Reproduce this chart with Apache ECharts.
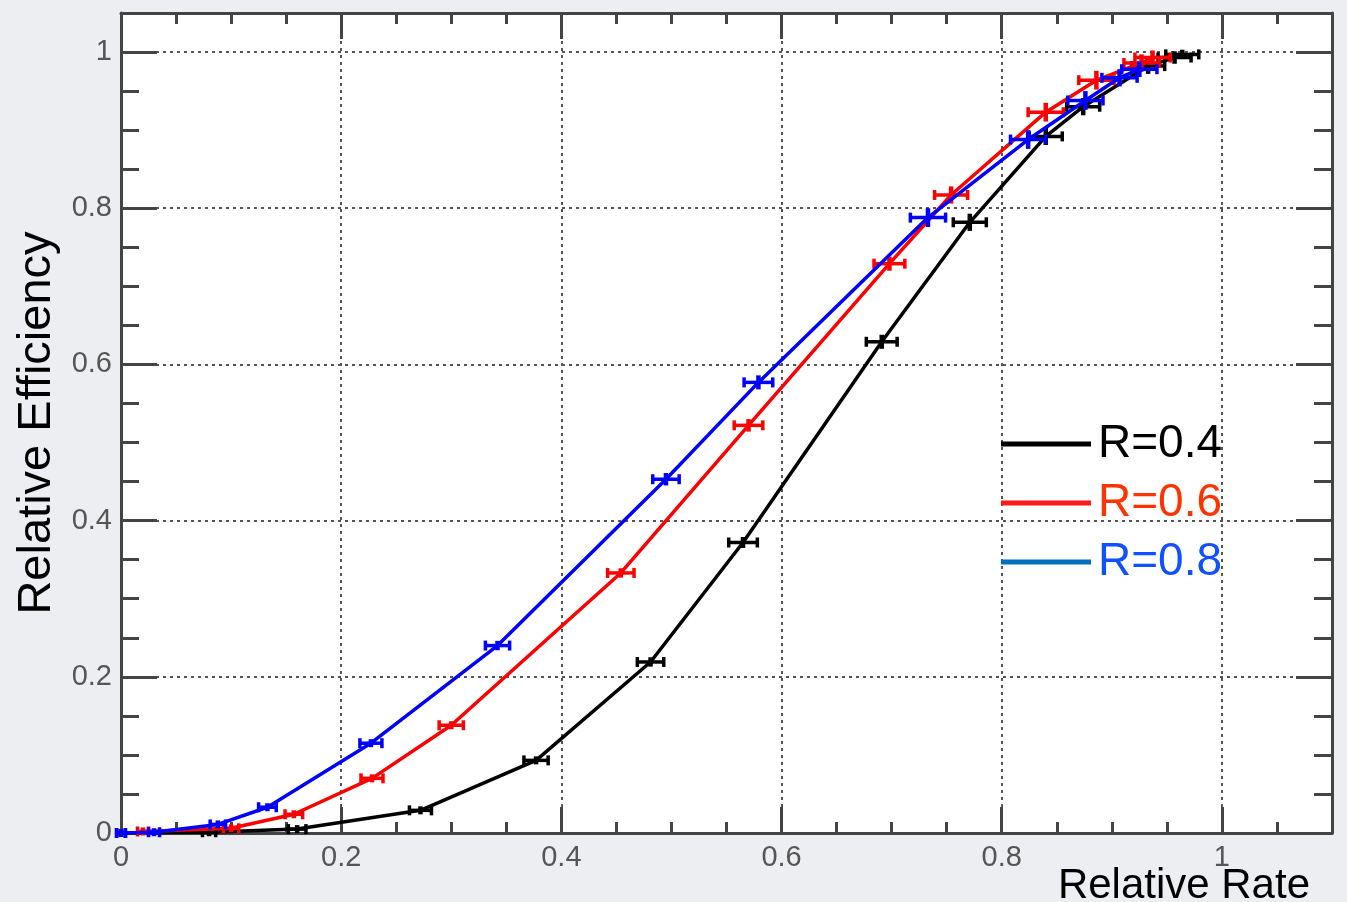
<!DOCTYPE html>
<html>
<head>
<meta charset="utf-8">
<script src="https://cdn.jsdelivr.net/npm/echarts@6/dist/echarts.min.js"></script>
<style>
html,body{margin:0;padding:0;background:#eceef1;}
#chart{width:1347px;height:902px;}
</style>
</head>
<body>
<div id="chart"></div>
<script>
// ---- data ----
const seriesNames = ['R=0.4', 'R=0.6', 'R=0.8'];

const r04X = [0.000, 0.080, 0.160, 0.272, 0.377, 0.481, 0.565, 0.691, 0.771, 0.840, 0.874, 0.933, 0.957, 0.964];
const r04Y = [0.000, 0.001, 0.005, 0.029, 0.093, 0.219, 0.372, 0.629, 0.782, 0.892, 0.930, 0.982, 0.993, 0.997];
const r04Ex = [0.004, 0.006, 0.008, 0.010, 0.011, 0.012, 0.013, 0.014, 0.015, 0.015, 0.015, 0.015, 0.015, 0.015];
const r04Ey = [0.000, 0.001, 0.002, 0.004, 0.005, 0.006, 0.007, 0.009, 0.011, 0.011, 0.011, 0.010, 0.008, 0.006];

const r06X = [0.020, 0.100, 0.157, 0.228, 0.300, 0.454, 0.570, 0.698, 0.754, 0.840, 0.886, 0.927, 0.937];
const r06Y = [0.002, 0.006, 0.024, 0.070, 0.138, 0.333, 0.522, 0.729, 0.817, 0.923, 0.964, 0.986, 0.993];
const r06Ex = [0.005, 0.007, 0.008, 0.010, 0.011, 0.012, 0.013, 0.014, 0.015, 0.016, 0.016, 0.016, 0.016];
const r06Ey = [0.001, 0.002, 0.003, 0.004, 0.005, 0.006, 0.008, 0.009, 0.011, 0.012, 0.012, 0.011, 0.009];

const r08X = [0.000, 0.030, 0.088, 0.133, 0.227, 0.342, 0.495, 0.579, 0.733, 0.824, 0.876, 0.907, 0.925];
const r08Y = [0.000, 0.001, 0.011, 0.033, 0.115, 0.240, 0.453, 0.577, 0.788, 0.888, 0.938, 0.967, 0.978];
const r08Ex = [0.004, 0.005, 0.007, 0.008, 0.010, 0.011, 0.012, 0.013, 0.016, 0.016, 0.016, 0.016, 0.016];
const r08Ey = [0.000, 0.001, 0.002, 0.003, 0.005, 0.006, 0.008, 0.009, 0.012, 0.012, 0.012, 0.011, 0.010];

const xTickLabels = ['0', '0.2', '0.4', '0.6', '0.8', '1'];
const yTickLabels = ['0', '0.2', '0.4', '0.6', '0.8', '1'];
const xTitle = 'Relative Rate';
const yTitle = 'Relative Efficiency';

// ---- styling ----
const lineColors = ['#000000', '#ff0000', '#0000ff'];
const legendIconColors = ['#000000', '#ff1a1a', '#0070c0'];
const legendTextColors = ['#000000', '#ff3300', '#1050ff'];
const FONT = '"Liberation Sans", Arial, Helvetica, sans-serif';
const AX = '#444444';

function zip(xs, ys) { return xs.map((x, i) => [x, ys[i]]); }
function zipErr(xs, ys, ex, ey) { return xs.map((x, i) => [x, ys[i], ex[i], ey[i]]); }

function labelFmt(list) {
  return function (v) {
    const k = Math.round(v * 5);
    if (Math.abs(v - k / 5) > 1e-6 || k < 0 || k >= list.length) return '';
    return list[k];
  };
}

const allSets = [
  [r04X, r04Y, r04Ex, r04Ey],
  [r06X, r06Y, r06Ex, r06Ey],
  [r08X, r08Y, r08Ex, r08Ey]
];

function errRenderer(color) {
  return function (params, api) {
    const x = api.value(0), y = api.value(1), ex = api.value(2), ey = api.value(3);
    const pL = api.coord([x - ex, y]);
    const pR = api.coord([x + ex, y]);
    const pT = api.coord([x, y + ey]);
    const pB = api.coord([x, y - ey]);
    const c = api.coord([x, y]);
    const style = { stroke: color, lineWidth: 3.5 };
    const cap = 5;
    return {
      type: 'group',
      children: [
        { type: 'line', shape: { x1: pL[0], y1: pL[1], x2: pR[0], y2: pR[1] }, style: style },
        { type: 'line', shape: { x1: pL[0], y1: pL[1] - cap, x2: pL[0], y2: pL[1] + cap }, style: style },
        { type: 'line', shape: { x1: pR[0], y1: pR[1] - cap, x2: pR[0], y2: pR[1] + cap }, style: style },
        { type: 'line', shape: { x1: c[0], y1: Math.min(pT[1], c[1] - 4), x2: c[0], y2: Math.max(pB[1], c[1] + 4) }, style: { stroke: color, lineWidth: 4.5 } }
      ]
    };
  };
}

const series = [];
allSets.forEach((s, i) => {
  series.push({
    name: seriesNames[i],
    type: 'line',
    data: zip(s[0], s[1]),
    showSymbol: false,
    symbol: 'none',
    lineStyle: { color: lineColors[i], width: 3.5 },
    itemStyle: { color: lineColors[i] },
    z: 3 + i,
    animation: false
  });
  series.push({
    name: seriesNames[i] + ' err',
    type: 'custom',
    data: zipErr(s[0], s[1], s[2], s[3]),
    renderItem: errRenderer(lineColors[i]),
    z: 3 + i,
    animation: false,
    silent: true
  });
});

const commonX = {
  type: 'value', min: 0, max: 1.1, interval: 0.2,
  axisLine: { show: true, onZero: false, lineStyle: { color: AX, width: 3 } },
  axisTick: { show: true, inside: true, length: 26, lineStyle: { color: AX, width: 3 } },
  minorTick: { show: true, splitNumber: 4, length: 11, lineStyle: { color: AX, width: 3 } }
};
const commonY = {
  type: 'value', min: 0, max: 1.05, interval: 0.2,
  axisLine: { show: true, onZero: false, lineStyle: { color: AX, width: 3 } },
  axisTick: { show: true, inside: true, length: 36, lineStyle: { color: AX, width: 3 } },
  minorTick: { show: true, splitNumber: 4, length: 18, lineStyle: { color: AX, width: 3 } }
};
const gridLine = { show: true, lineStyle: { color: '#555', width: 2, type: [3, 4] } };

const option = {
  backgroundColor: '#eceef1',
  animation: false,
  title: {
    text: xTitle,
    right: 37,
    top: 865,
    padding: 0,
    textStyle: { color: '#000', fontSize: 42, fontWeight: 'normal', fontFamily: FONT }
  },
  grid: { left: 121, right: 15, top: 13, bottom: 69, show: true, backgroundColor: '#ffffff', borderWidth: 0, containLabel: false, outerBoundsMode: 'none' },
  legend: {
    orient: 'vertical',
    left: 996,
    top: 414,
    itemWidth: 90,
    itemHeight: 5,
    itemGap: 9,
    icon: 'rect',
    textStyle: { fontSize: 46, fontFamily: FONT, lineHeight: 50, padding: [0, 0, 0, 2] },
    data: seriesNames.map((n, i) => ({
      name: n,
      icon: 'rect',
      itemStyle: { color: legendIconColors[i] },
      textStyle: { color: legendTextColors[i], fontSize: 46, fontFamily: FONT }
    })),
    selectedMode: false
  },
  xAxis: [
    Object.assign({}, commonX, {
      position: 'bottom',
      splitLine: gridLine,
      axisLabel: { show: true, color: '#555', fontSize: 29, fontFamily: FONT, margin: 10, formatter: labelFmt(xTickLabels), showMaxLabel: true }
    }),
    Object.assign({}, commonX, {
      position: 'top',
      splitLine: { show: false },
      axisLabel: { show: false }
    })
  ],
  yAxis: [
    Object.assign({}, commonY, {
      position: 'left',
      name: yTitle,
      nameLocation: 'middle',
      nameGap: 54,
      nameRotate: 90,
      nameTextStyle: { color: '#000', fontSize: 47, fontFamily: FONT },
      splitLine: gridLine,
      axisLabel: { show: true, color: '#555', fontSize: 29, fontFamily: FONT, margin: 9, formatter: labelFmt(yTickLabels) }
    }),
    Object.assign({}, commonY, {
      position: 'right',
      splitLine: { show: false },
      axisLabel: { show: false }
    })
  ],
  series: series
};

const chart = echarts.init(document.getElementById('chart'), null, { renderer: 'canvas' });
chart.setOption(option);
</script>
</body>
</html>
